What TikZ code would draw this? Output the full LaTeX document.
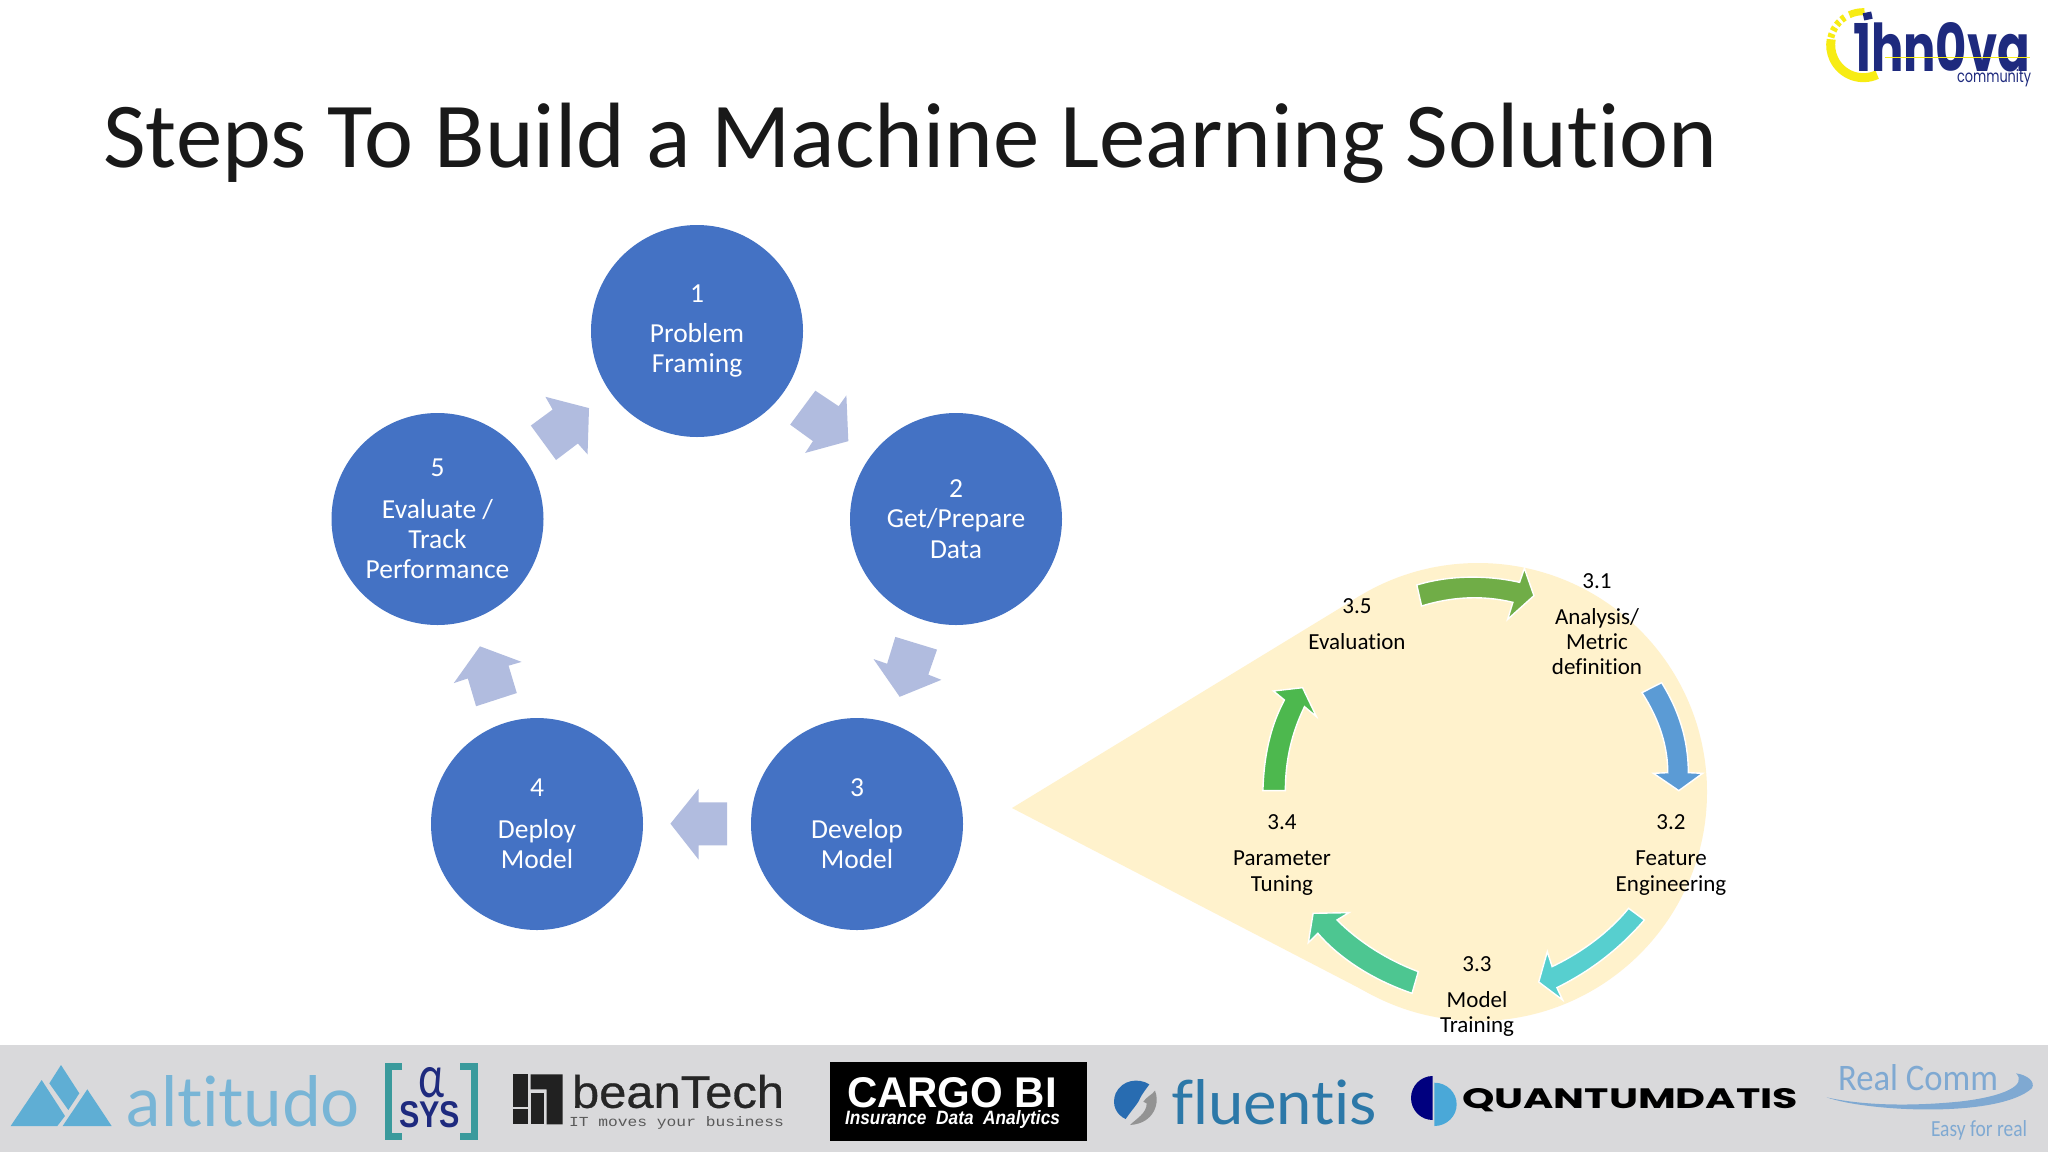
\documentclass[tikz,border=0pt]{standalone}
\usepackage{fontspec}
\setmainfont[Ligatures=NoCommon]{Carlito}
\newfontfamily\lighttitle[Ligatures=NoCommon]{Carlito}
\newfontfamily\latof[Ligatures=NoCommon]{Lato}
\newfontfamily\libsans{Liberation Sans}
\newfontfamily\libsansmed[FakeBold=0.6]{Liberation Sans}
\newfontfamily\libmono{Liberation Mono}
\newfontfamily\popf{Poppins}
\definecolor{circ}{HTML}{4472C4}
\definecolor{blockarrow}{HTML}{B1BCDF}
\definecolor{tear}{HTML}{FFF2CC}
\definecolor{band}{HTML}{D9D9DB}
\definecolor{navy}{HTML}{1E2A7E}
\definecolor{altblue}{HTML}{5FAED4}
\definecolor{alttext}{HTML}{78B5D6}
\definecolor{rcblue}{HTML}{7FA9D2}
\definecolor{flblue}{HTML}{2C78A8}
\definecolor{brk}{HTML}{3A9A9C}
\definecolor{qdnavy}{HTML}{00007F}
\definecolor{qdlight}{HTML}{4AA8D8}
\definecolor{inyellow}{HTML}{F7EC13}
\tikzset{
  stepcircle/.style={circle,fill=circ,minimum size=106pt,inner sep=0pt,text=white,align=center,font=\fontsize{13.75}{15.2}\selectfont},
  blockarr/.style={fill=blockarrow,draw=none},
  curved/.style={draw=white,line width=0.7pt,line join=miter},
  sublabel/.style={align=center,text=black,inner sep=0pt,font=\fontsize{11.5}{12.6}\selectfont},
  zoomA/.style={shift={(1000,550)},xscale=0.478,yscale=0.3333},
  zoomB/.style={shift={(320,210)},xscale=0.4847,yscale=0.4717},
  zoomD/.style={shift={(1024,1040)},xscale=0.6536,yscale=0.3333},
  zoomE/.style={shift={(1780,0)},scale=0.3333},
}
\newlength\fitw\newlength\fith
\newcommand{\fittext}[7]{%
  \pgfmathsetlength\fitw{(#4-#2)*0.5}%
  \pgfmathsetlength\fith{(#5-#3)*0.5}%
  \node[inner sep=0pt,text=#6] (#1) at ({(#2+#4)/2},{(#3+#5)/2}) {\resizebox{\fitw}{\fith}{#7}};}
\begin{document}
\begin{tikzpicture}[x=0.5pt,y=-0.5pt]
\useasboundingbox (0,0) rectangle (2048,1152);
\clip (0,0) rectangle (2048,1152);
\fill[white] (0,0) rectangle (2048,1152);

% title
\node[anchor=base west,inner sep=0pt,text=black!90] (title) at (103,167)
  {\lighttitle\fontsize{46.4}{50}\selectfont Steps To Build a Machine Learning Solution};

% main cycle
\node[stepcircle] (c1) at (697,331) {\raisebox{-2pt}{1}\\[5.6pt]\raisebox{-1pt}{Problem}\\\raisebox{-1pt}{Framing}};
\node[stepcircle] (c2) at (956,519) {2\\Get/Prepare\\Data};
\node[stepcircle] (c3) at (857,824) {3\\[5.6pt]Develop\\Model};
\node[stepcircle] (c4) at (537,824) {4\\[5.6pt]Deploy\\Model};
\node[stepcircle] (c5) at (437.5,519) {5\\[5.6pt]Evaluate /\\Track\\Performance};

\begin{scope}[zoomB]
\fill[blockarr] (1022,383)--(1070,416)--(1086,393)--(1090,490)--(1001,515)--(1017,490)--(970,455)--cycle;
\fill[blockarr] (1187,905)--(1273,932)--(1255,985)--(1282,996)--(1196,1032)--(1142,952)--(1170,962)--cycle;
\fill[blockarr] (840,1256)--(840,1347)--(781,1347)--(781,1377)--(723,1301)--(781,1227)--(781,1256)--cycle;
\fill[blockarr] (330,925)--(416,958)--(389,966)--(406,1024)--(322,1052)--(305,993)--(276,1003)--cycle;
\fill[blockarr] (465,396)--(555,420)--(552,518)--(532,495)--(487,530)--(435,457)--(480,423)--cycle;
\end{scope}

% teardrop
\coordinate (tip) at (1012,808);
\coordinate (drop) at (1478,792);
\fill[tear] (drop) circle[radius=229];
\fill[tear] (tip)--(1359,596.5)--(drop)--(1372.5,995)--cycle;

\begin{scope}[zoomA]
\definecolor{cA}{HTML}{70AD47}\definecolor{cB}{HTML}{5B9BD5}\definecolor{cC}{HTML}{57CFCF}\definecolor{cD}{HTML}{4DC691}\definecolor{cE}{HTML}{4DB84E}
\filldraw[curved,fill=cA] (872,105) .. controls (940,75) and (1020,75) .. (1087,97)--(1097,55)--(1117,137)--(1062,208)--(1073,157) .. controls (1010,135) and (945,140) .. (882,168)--cycle;
\filldraw[curved,fill=cB] (1384,398) .. controls (1420,480) and (1440,570) .. (1440,668)--(1470,670)--(1420,722)--(1367,670)--(1397,668) .. controls (1397,590) and (1380,510) .. (1343,428)--cycle;
\filldraw[curved,fill=cC] (1348,1110) .. controls (1300,1190) and (1240,1260) .. (1165,1313)--(1177,1350)--(1127,1296)--(1145,1205)--(1155,1250) .. controls (1220,1205) and (1275,1145) .. (1315,1075)--cycle;
\filldraw[curved,fill=cD] (862,1330) .. controls (780,1290) and (710,1225) .. (665,1150)--(645,1178)--(655,1090)--(730,1088)--(705,1110) .. controls (750,1175) and (810,1230) .. (875,1265)--cycle;
\filldraw[curved,fill=cE] (550,722) .. controls (552,620) and (565,530) .. (595,450)--(572,423)--(633,413)--(662,500)--(637,470) .. controls (610,550) and (597,630) .. (597,722)--cycle;
\end{scope}

\node[sublabel] (s1) at (1597,624) {3.1\\[5.4pt]Analysis/\\Metric\\definition};
\node[sublabel] (s2) at (1671,855) {3.2\\[5.4pt]Feature\\Engineering};
\node[sublabel] (s3) at (1477,996.5) {3.3\\[5.4pt]Model\\Training};
\node[sublabel] (s4) at (1282,855) {3.4\\[5.4pt]Parameter\\Tuning};
\node[sublabel] (s5) at (1357,624) {3.5\\[5.4pt]Evaluation};

% logo band
\fill[band] (0,1045) rectangle (2048,1152);

% altitudo
\begin{scope}[shift={(0,1055)},scale=0.3333]
\fill[altblue] (32,213)--(125,75)--(195,183)--(172,213)--cycle;
\fill[altblue] (148,85)--(183,30)--(238,115)--(205,165)--cycle;
\fill[altblue] (188,213)--(262,103)--(335,213)--cycle;
\end{scope}
\fittext{altitudo}{127}{1076}{360}{1127}{alttext}{\latof altitudo}
% alpha sys
\draw[line width=3.5pt,color=brk] (402,1066)--(388,1066)--(388,1136)--(402,1136);
\draw[line width=3.5pt,color=brk] (460,1066)--(474,1066)--(474,1136)--(460,1136);
\fittext{alpha}{418}{1068}{444}{1098}{navy}{\latof α}
\fittext{sys}{399}{1102}{460}{1128}{navy}{\libsans\bfseries SYS}
% beanTech
\begin{scope}[shift={(500,1065)},scale=0.3333]
\fill[black!87] (40,28) rectangle (84,125);
\fill[black!87] (40,133) rectangle (84,178);
\fill[black!87] (92,28)--(188,28)--(188,178)--(140,178)--(140,73)--(92,73)--cycle;
\fill[black!87] (92,83) rectangle (132,178);
\end{scope}
\fittext{bean}{572}{1075}{784}{1108}{black!85}{\libsansmed beanTech}
\fittext{beansub}{569}{1118}{784}{1128}{black!65}{\libmono IT moves your business}
% cargo
\fill[black] (830,1062) rectangle (1087,1141);
\fittext{cargo}{847}{1078}{1057}{1108}{white}{\libsans\bfseries CARGO BI}
\fittext{cargosub}{845}{1112}{1060}{1126}{white}{\libsans\bfseries\itshape Insurance~~Data~~Analytics}
% fluentis
\begin{scope}[shift={(1105,1070)},scale=0.3333]
\fill[flblue!90!blue] (133,43) .. controls (100,22) and (50,30) .. (32,70) .. controls (18,105) and (35,135) .. (62,147) .. controls (80,120) and (100,100) .. (105,85) .. controls (112,70) and (125,55) .. (133,43)--cycle;
\fill[gray!85] (150,62) .. controls (165,95) and (150,160) .. (75,165) .. controls (95,145) and (125,130) .. (125,100)--(115,95) .. controls (125,80) and (140,75) .. (150,62)--cycle;
\end{scope}
\fittext{fluentis}{1171}{1080}{1377}{1125}{flblue}{\latof fluentis}
% quantumdatis
\begin{scope}[shift={(1400,1065)},scale=0.3333]
\fill[qdnavy] (98,33) arc[start angle=270,end angle=90,x radius=65,y radius=66]--cycle;
\fill[qdlight] (103,53) arc[start angle=-90,end angle=90,x radius=67,y radius=65]--cycle;
\end{scope}
\fittext{qd}{1462}{1090}{1798}{1110}{black}{\popf\bfseries QUANTUMDATIS}
% real comm
\fittext{rc}{1838}{1065}{1998}{1091}{rcblue}{Real Comm}
\begin{scope}[zoomD]
\fill[rcblue] (1228,172) .. controls (1290,215) and (1490,235) .. (1542,145) .. controls (1548,125) and (1535,105) .. (1518,100) .. controls (1535,135) and (1500,170) .. (1430,185) .. controls (1350,200) and (1280,195) .. (1228,172) -- cycle;
\end{scope}
\fittext{easy}{1931}{1122}{2027}{1138}{rcblue}{Easy for real}

% innova logo
\begin{scope}[zoomE]
\coordinate (ring) at (250,135);
\draw[inyellow,line width=4.5pt] (ring) ++(65:98) arc[start angle=65,end angle=190,radius=98];
\draw[inyellow,line width=3.5pt,dash pattern=on 2pt off 1.5pt] (ring) ++(193:100) arc[start angle=193,end angle=240,radius=100];
\draw[inyellow,line width=3.5pt] (ring) ++(245:100) arc[start angle=245,end angle=272,radius=100];
\fill[navy,rotate around={12:(263,48)}] (250,37) rectangle (276,59);
\end{scope}
\fittext{innova}{1853}{23}{2030}{72}{navy}{\popf\bfseries 1hn0va}
\fill[inyellow] (1885,56.5) rectangle (2030,58);
\fittext{comm}{1957}{72}{2031}{85}{navy}{\popf community}
\end{tikzpicture}
\end{document}
